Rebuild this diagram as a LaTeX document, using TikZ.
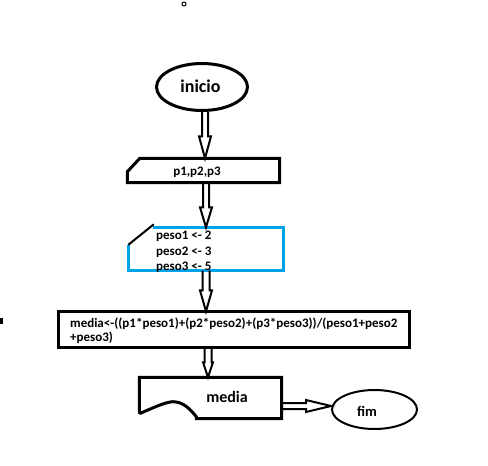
\documentclass[tikz,border=0pt]{standalone}
\usepackage{fontspec}
\setmainfont{Carlito}
\usetikzlibrary{calc,shapes.geometric}
\definecolor{boxblue}{HTML}{00A2E8}
\tikzset{
  frame/.style={draw=none, inner sep=0pt},
  outline/.style={line width=3pt, line join=miter},
  lbl/.style={inner sep=0pt, font=\bfseries\fontsize{13}{15.5}\selectfont},
  % hollow "double line" arrow: #1 head length, #2 head half-width, #3 shaft half-width
  dblarrow/.style n args={3}{line width=2pt, line join=miter, to path={
    ($(\tikztostart)!#3!90:(\tikztotarget)$)
    -- ($(\tikztotarget)!#1!(\tikztostart)!#3!-90:(\tikztostart)$)
    -- ($(\tikztotarget)!#1!(\tikztostart)!#2!-90:(\tikztostart)$)
    -- (\tikztotarget)
    -- ($(\tikztotarget)!#1!(\tikztostart)!#2!90:(\tikztostart)$)
    -- ($(\tikztotarget)!#1!(\tikztostart)!#3!90:(\tikztostart)$)
    -- ($(\tikztostart)!#3!-90:(\tikztotarget)$)
  }},
}
\begin{document}
\begin{tikzpicture}[x=1pt,y=-1pt]
\useasboundingbox (0,0) rectangle (488,466);

% stray marks
\draw[line width=1pt] (184,4) circle (2);
\fill (0,318) rectangle (3,324);

% start
\node[ellipse, draw, line width=3pt, minimum width=91pt, minimum height=47pt, inner sep=0pt] (ini) at (202,87) {};
\node[lbl, font=\bfseries\fontsize{18}{20}\selectfont] (tini) at (200.5,86) {inicio};

% input p1,p2,p3
\node[frame, minimum width=152pt, minimum height=24pt] (inp) at (203.5,170.5) {};
\draw[outline] ([xshift=12.5]inp.north west) -- (inp.north east) -- (inp.south east)
  -- (inp.south west) -- ([yshift=-13.5]inp.north west) -- cycle;
\node[lbl] (tinp) at (197,172) {p1,p2,p3};

% weights
\node[frame, minimum width=155pt, minimum height=43pt] (inb) at (206,249) {};
\draw[outline, draw=boxblue] ([xshift=24.5]inb.north west) -- (inb.north east) -- (inb.south east)
  -- (inb.south west) -- ([yshift=-17.5]inb.north west);
\draw[line width=2pt] ([yshift=-17.5]inb.north west) -- ([xshift=25.5,yshift=3]inb.north west);
\node[lbl, anchor=west, align=left] (tinb) at (156,252) {peso1 <- 2\\peso2 <- 3\\peso3 <- 5};

% weighted mean
\node[frame, minimum width=351pt, minimum height=36pt] (calc) at (234,329.5) {};
\draw[outline] (calc.north west) rectangle (calc.south east);
\node[lbl, anchor=west, align=left, font=\bfseries\fontsize{13}{14}\selectfont] (tcalc) at (70,330.5)
  {media<-((p1*peso1)+(p2*peso2)+(p3*peso3))/(peso1+peso2\\+peso3)};

% output document
\node[frame, minimum width=142pt, minimum height=41pt] (outp) at (210.5,398) {};
\draw[outline] ($(outp.south west)+(0,-5)$) -- (outp.north west) -- (outp.north east)
  -- (outp.south east) -- ($(outp.south west)+(57,0)$) -- ($(outp.south west)+(57,-2)$)
  .. controls ($(outp.south west)+(48,-13)$) and ($(outp.south west)+(42,-17)$) .. ($(outp.south west)+(33,-17)$)
  .. controls ($(outp.south west)+(24,-16)$) and ($(outp.south west)+(12,-10)$) .. ($(outp.south west)+(0,-5)$);
\node[lbl, font=\bfseries\fontsize{16}{18}\selectfont] (toutp) at (227,397) {media};

% end
\node[ellipse, draw, line width=2pt, minimum width=85pt, minimum height=39pt, inner sep=0pt] (fim) at (374.5,409.5) {};
\node[lbl, font=\bfseries\fontsize{14.5}{16}\selectfont] (tfim) at (367,411) {fim};

% connector end points
\coordinate (a1s) at ([xshift=3]ini.south);
\coordinate (a1e) at ([xshift=1.5]inp.north);
\coordinate (a2s) at ([xshift=2.5]inp.south);
\coordinate (a2e) at (inb.north);
\coordinate (a3s) at (inb.south);
\coordinate (a3e) at ([xshift=-28]calc.north);
\coordinate (a4s) at ([xshift=-26]calc.south);
\coordinate (a4e) at ([xshift=-2.5]outp.north);
\coordinate (a5s) at ([yshift=-8]outp.east);
\coordinate (a5e) at ([yshift=3.5]fim.west);

\draw[dblarrow={22pt}{6pt}{3pt}] (a1s) to (a1e);
\draw[dblarrow={20pt}{6pt}{3pt}] (a2s) to (a2e);
\draw[dblarrow={21pt}{6pt}{3.5pt}] (a3s) to (a3e);
\draw[dblarrow={15pt}{5pt}{3.5pt}] (a4s) to (a4e);
\draw[dblarrow={25pt}{6pt}{3pt}] (a5s) to (a5e);
\end{tikzpicture}
\end{document}
